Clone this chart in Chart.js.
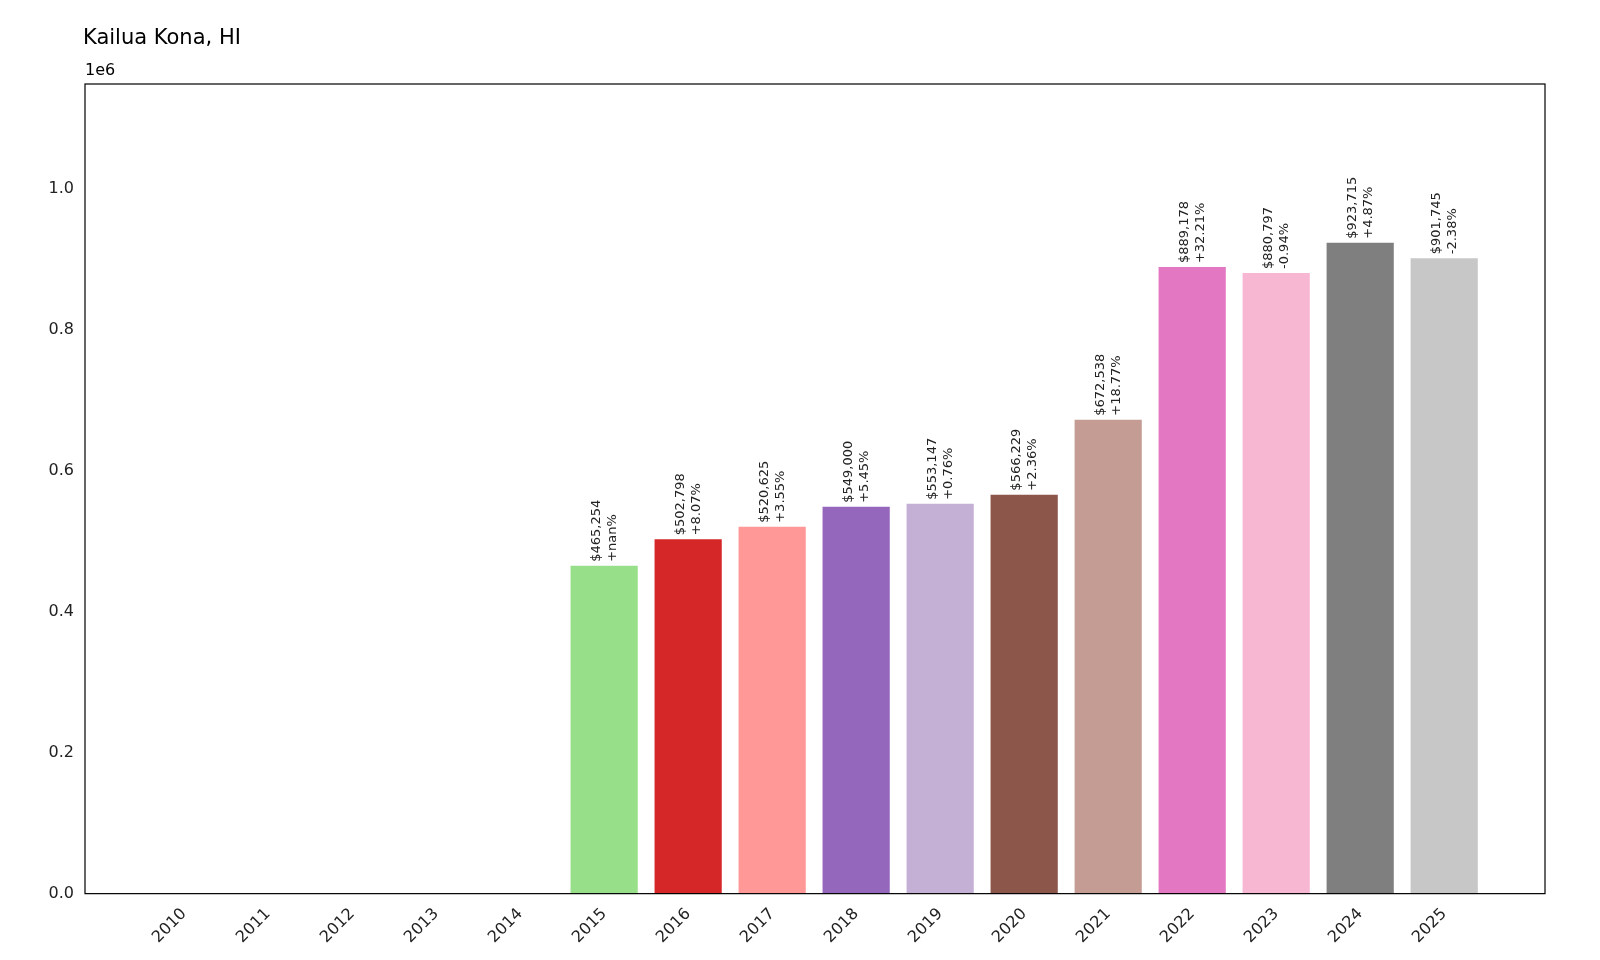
<!DOCTYPE html>
<html>
<head>
<meta charset="utf-8">
<script src="https://cdn.jsdelivr.net/npm/chart.js@4/dist/chart.umd.min.js"></script>
<style>
body { margin: 0; background: #fff; }
#wrap { width: 1600px; height: 960px; position: relative; }
</style>
</head>
<body>
<div id="wrap"><canvas id="myChart" width="1600" height="960"></canvas></div>
<script>
// data
const years = ['2010', '2011', '2012', '2013', '2014', '2015', '2016', '2017', '2018', '2019', '2020', '2021', '2022', '2023', '2024', '2025']
const values = [0, 0, 0, 0, 0, 465254, 502798, 520625, 549000, 553147, 566229, 672538, 889178, 880797, 923715, 901745]
const changes = ['', '', '', '', '', '+nan%', '+8.07%', '+3.55%', '+5.45%', '+0.76%', '+2.36%', '+18.77%', '+32.21%', '-0.94%', '+4.87%', '-2.38%']
const colors = ['#1f77b4', '#aec7e8', '#ff7f0e', '#ffbb78', '#2ca02c', '#98df8a', '#d62728', '#ff9896', '#9467bd', '#c5b0d5', '#8c564b', '#c49c94', '#e377c2', '#f7b6d2', '#7f7f7f', '#c7c7c7']
const yTicks = [0, 0.2, 0.4, 0.6, 0.8, 1.0]

const font = 'DejaVu Sans'

// labels above bars + title
const barLabels = {
	id: 'barLabels',
	afterDatasetsDraw: chart => {
		const ctx = chart.ctx
		const meta = chart.getDatasetMeta(0)
		ctx.save()
		ctx.fillStyle = '#222'
		ctx.font = '13px "' + font + '"'
		meta.data.forEach((bar, i) => {
			if (!values[i]) return
			ctx.save()
			ctx.translate(bar.x, bar.y - 4)
			ctx.rotate(-Math.PI / 2)
			ctx.textAlign = 'left'
			ctx.textBaseline = 'middle'
			ctx.fillText('$' + values[i].toLocaleString('en-US'), 0, -8)
			ctx.fillText(changes[i], 0, 8)
			ctx.restore()
		})
		ctx.fillStyle = '#000'
		ctx.font = '21px "' + font + '"'
		ctx.textAlign = 'left'
		ctx.textBaseline = 'alphabetic'
		ctx.fillText('Kailua Kona, HI', chart.chartArea.left - 2, 44)
		ctx.font = '16px "' + font + '"'
		ctx.fillText('1e6', chart.chartArea.left, 75)
		ctx.restore()
	}
}

const frame = {
	id: 'frame',
	afterDraw: chart => {
		const { left, right, top, bottom } = chart.chartArea
		const ctx = chart.ctx
		ctx.save()
		ctx.strokeStyle = '#000'
		ctx.lineWidth = 1.2
		ctx.strokeRect(left, top, right - left, bottom - top)
		ctx.restore()
	}
}

const myChart = new Chart(document.querySelector('#myChart').getContext('2d'), {
	type: 'bar',
	data: {
		datasets: [{
			data: values.map((v, i) => ({ x: i, y: v })),
			backgroundColor: colors,
			borderWidth: 0,
			barPercentage: 0.8,
			categoryPercentage: 1
		}]
	},
	plugins: [barLabels, frame],
	options: {
		responsive: false,
		animation: false,
		layout: { padding: { top: 84, right: 55, left: 10, bottom: 10 } },
		plugins: { legend: { display: false }, tooltip: { enabled: false } },
		scales: {
			x: {
				type: 'linear',
				min: -1.18,
				max: 16.2,
				offset: false,
				grid: { display: false, drawTicks: true },
				border: { display: false },
				afterBuildTicks: axis => { axis.ticks = years.map((y, i) => ({ value: i })) },
				ticks: {
					autoSkip: false,
					maxRotation: 45,
					minRotation: 45,
					color: '#222',
					font: { family: font, size: 16 },
					callback: v => years[v]
				}
			},
			y: {
				min: 0,
				max: 1.149e6,
				grid: { display: false },
				border: { display: false },
				afterBuildTicks: axis => { axis.ticks = yTicks.map(v => ({ value: v * 1e6 })) },
				afterFit: axis => { axis.width = 75 },
				ticks: {
					color: '#222',
					font: { family: font, size: 16 },
					callback: v => (v / 1e6).toFixed(1)
				}
			}
		}
	}
})
</script>
</body>
</html>
